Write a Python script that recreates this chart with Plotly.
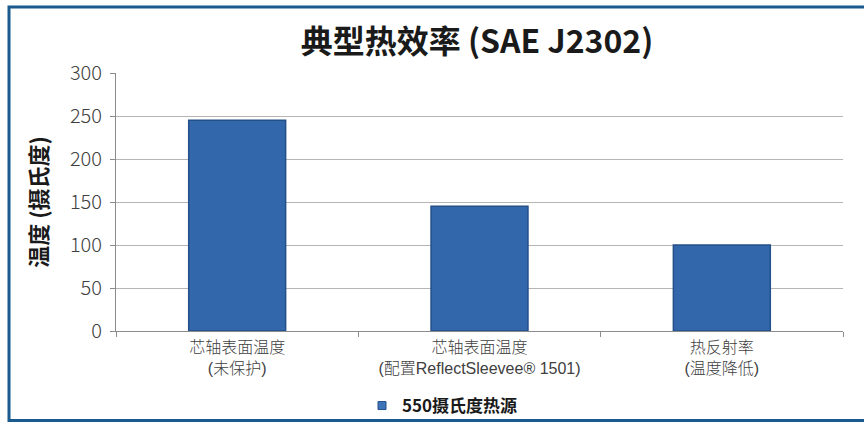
import plotly.graph_objects as go

categories = ["芯轴表面温度<br>(未保护)", "芯轴表面温度<br>(配置ReflectSleevee® 1501)", "热反射率<br>(温度降低)"]
values = [245, 145, 100]
series_name = "550摄氏度热源"
y_ticks = [0, 50, 100, 150, 200, 250, 300]

FONT = "Noto Sans CJK SC, Noto Sans, sans-serif"
XFONT = "Liberation Sans, Noto Sans CJK SC, sans-serif"
BAR = "#3367ab"
EDGE = "#24508a"

fig = go.Figure()
fig.add_trace(go.Bar(
    x=categories, y=values, name=series_name,
    marker=dict(color=BAR, line=dict(color=EDGE, width=1.5)),
    showlegend=False,
))
# legend entry with a small square symbol like the original
fig.add_trace(go.Scatter(
    x=[None], y=[None], mode="markers", name=series_name,
    marker=dict(symbol="square", size=8, color="#3d74b8", line=dict(color=EDGE, width=1)),
    showlegend=True,
))

W, H = 864, 422
l, r, t, b = 116, 21, 73, 91
pw, ph = W - l - r, H - t - b

def px(x):
    return (x - l) / pw

def py(y):
    return (H - b - y) / ph

fig.update_layout(
    width=W, height=H,
    margin=dict(l=l, r=r, t=t, b=b, autoexpand=False),
    paper_bgcolor="white", plot_bgcolor="white",
    bargap=0.6,
    title=dict(text="<b>典型热效率 (SAE J2302)</b>", x=477 / W, xanchor="center",
               y=1 - 42 / H, yanchor="middle",
               font=dict(family=FONT, size=32, color="#1a1a1a")),
    font=dict(family=FONT, color="#404040"),
    xaxis=dict(
        showline=True, linecolor="#8c8c8c", linewidth=1,
        ticks="outside", ticklen=5, tickcolor="#8c8c8c", tickson="boundaries",
        tickfont=dict(family=XFONT, size=16, color="#404040", weight=300),
        ticklabelstandoff=2,
        showgrid=False, automargin=False,
    ),
    yaxis=dict(
        range=[0, 300], tickvals=y_ticks,
        showline=True, linecolor="#8c8c8c", linewidth=1,
        ticks="outside", ticklen=5, tickcolor="#8c8c8c",
        showgrid=True, gridcolor="#b5b5b5", gridwidth=1,
        tickfont=dict(family=FONT, size=20, color="#404040", weight=300),
        ticklabelstandoff=4,
        title=dict(text="<b>温度 (摄氏度)</b>", standoff=16,
                   font=dict(family=FONT, size=22, color="#1a1a1a")),
        zeroline=False, automargin=False,
    ),
    legend=dict(orientation="h", xref="container", yref="container",
                x=362 / W, xanchor="left", y=1 - 406 / H, yanchor="middle",
                font=dict(family=FONT, size=17, color="#1a1a1a", weight="bold"),
                itemwidth=30, bgcolor="rgba(0,0,0,0)"),
    shapes=[dict(type="rect", xref="paper", yref="paper",
                 x0=px(9), x1=px(872), y0=py(420.5), y1=py(7),
                 line=dict(color="#1a5a8e", width=3), fillcolor="rgba(0,0,0,0)", layer="below")],
)

fig.write_html("out.html", config={"displayModeBar": False},
               post_script="document.body.style.margin='0';document.body.style.overflow='hidden';")
